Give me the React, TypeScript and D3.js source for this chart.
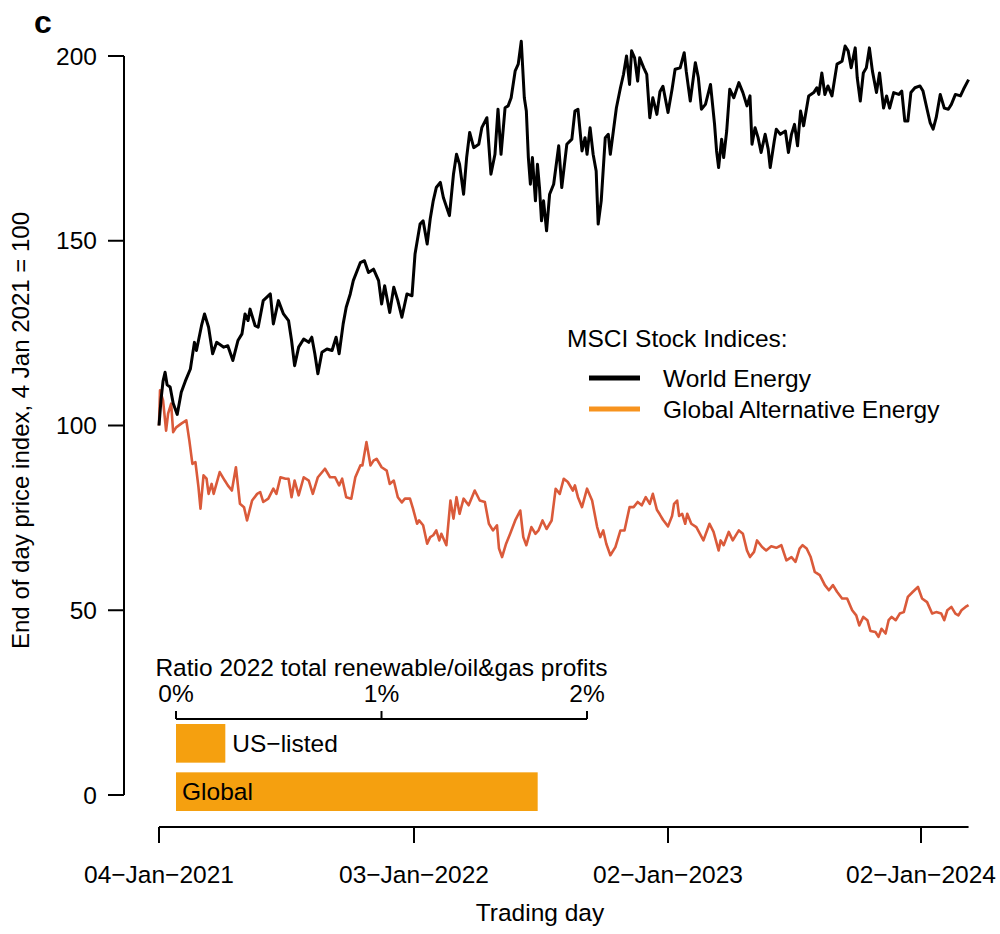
import React from "react";
import * as d3 from "d3";

// ---------- data ----------
const worldDays = [0,2,4,6,8,11,14,18,22,26,31,35,37,42,45,49,53,57,64,68,73,78,82,85,88,90,95,98,103,110,113,118,123,128,131,134,138,143,148,151,154,157,161,166,171,175,178,182,185,189,192,199,203,207,212,217,220,223,228,232,236,240,245,250,253,258,261,265,268,271,274,278,281,287,291,294,297,301,304,307,311,316,319,324,328,332,335,338,342,345,348,352,355,358,361,363,365,367,369,372,374,376,378,380,383,386,390,395,398,403,408,411,414,418,421,423,426,429,432,434,437,441,444,446,449,452,456,459,462,465,467,470,473,475,479,482,485,488,492,495,498,503,507,510,515,519,521,525,530,533,536,540,545,549,551,553,556,558,561,564,568,573,577,581,584,586,589,592,595,599,602,604,608,610,614,619,622,625,628,631,634,637,642,647,650,652,655,658,661,665,670,675,678,681,684,688,690,693,696,699,702,705,709,712,716,719,722,726,731,734,737,740,743,747,752,755,759,762,765,768,772,776,780,783,787,792,795,800];
const worldValues = [100,107,112,114.4,111,110.4,106,103,109,112,115.3,122.5,120.3,127,130.2,126.6,119.4,122.5,121.2,121.6,117.6,123,124.8,130.2,128.4,131.5,127,126.6,133.8,135.6,127.5,133.8,130.2,128.4,123,116.2,121.2,123.4,122.5,123.9,119.4,114,119.8,120.7,120.3,123.9,119.4,127.5,132,135.6,139.2,144.1,144.6,141.4,142.3,139.2,132.9,137.8,130.6,137.4,133.8,129.3,135.6,135.1,146.4,154.5,155.4,149.1,155.9,160.8,164.4,165.8,161.7,156.8,168,173.4,170.7,162.6,172.5,179.3,175.2,176.1,180.6,183.3,168,173.4,185.6,173.4,186,186.5,188.7,196,197.8,204,188.7,185.1,172.5,165.3,172.5,160.8,170.7,164.4,155.4,160.8,152.7,162.6,165.3,175.7,164.4,176.1,177.5,185.1,185.6,174.3,177.9,173.4,180.6,173.4,168.9,154.5,160.8,177.9,178.8,173.4,179.7,186,191.4,195,200,192.3,201.4,199.5,193.2,199.5,196.8,195,183.3,188.7,184.2,190.3,191.8,184.7,191,196.4,196.8,200.9,195.9,187.8,198.2,194.1,185.6,186.9,192.3,181.5,174.3,169.8,177.5,172.5,179.7,191,188.7,192.8,190.1,186.5,189.2,176.1,180.6,177.9,173.9,178.8,174.8,169.8,177,180.2,178.8,179.7,173.9,178.8,181.5,175.7,185.1,181.1,189.2,190.1,191.4,189.6,195.4,189.6,191.9,189.2,197.8,198.6,202.7,201.4,196.8,202.2,194.1,187.8,195.4,196.8,202.2,195.9,190.1,195.4,185.9,189.2,185.9,190.1,189.6,190.5,182.4,182.4,190.1,191.4,191.9,190.5,185.6,182,180.2,183.3,189.6,185.9,185.6,186.9,189.6,189.2,191,193.6];

const altDays = [0,1,4,7,9,12,14,17,22,27,30,33,36,39,41,44,47,49,52,54,60,65,68,72,76,80,84,87,92,97,100,103,108,113,116,120,125,128,131,134,138,143,148,152,157,164,169,174,178,181,185,190,194,199,201,205,209,212,215,220,225,228,232,236,240,243,248,251,255,257,261,265,268,271,274,277,279,284,288,291,294,297,301,306,312,317,322,326,330,334,336,339,343,347,352,357,360,363,368,372,375,379,383,388,392,396,400,404,409,411,414,418,423,428,433,436,439,442,446,451,456,460,465,469,473,477,481,485,488,492,495,498,503,507,509,512,514,517,520,522,526,531,538,544,548,553,555,558,563,567,573,577,581,584,588,591,596,600,605,610,615,620,625,629,633,636,640,644,648,653,658,662,666,670,675,680,685,689,692,696,700,703,708,711,714,718,721,724,728,732,736,740,745,750,754,759,764,768,773,776,779,783,787,790,793,797,800];
const altValues = [100,109.5,106.8,98.6,103.2,105.9,98.2,99.5,100.5,101.4,95.9,89.6,90.1,83.3,77.5,86.5,85.6,81.5,84.2,81.5,87.4,85.1,83.8,82.4,88.7,78.8,77.9,74.3,79.7,81.5,82,79.3,80.2,82.9,81.5,86,85.6,85.6,80.6,85.1,81.1,86,85.1,81.5,86,88.3,86,86,83.8,85.6,80.6,80.2,86,89.2,89.2,95.5,89.2,90.5,91,88.7,87.8,84.2,85.1,80.6,79.2,80.2,80.2,77.5,73.4,74.3,73,68,69.8,70.3,71.6,68.9,70.7,67.6,79.7,74.8,80.6,76.1,80.2,78.4,82.4,79.7,79.3,73.4,71.6,73,66.7,64.4,68,70.7,74.3,77,69.8,67.6,72.5,70.7,71.6,74.3,72,74.3,82.9,81.5,85.6,84.7,82.4,83.8,80.6,77.9,82.9,79.7,72.5,69.8,71.6,68,64.9,67.1,71.6,71.6,77.9,77.9,79.3,78.4,80.6,78.8,81.5,77.2,75.9,74.5,72.7,75.5,78.8,79.7,75.5,76.1,73.4,76.1,73.4,72.5,68.9,73.4,71.2,66.2,68.9,67.6,71.2,68.9,71.6,70.7,66.2,64.4,65.8,68.9,67.1,66.2,67.3,66.9,67.6,63.5,64.4,63.1,66.7,67.6,66.7,64.4,60.4,59.5,56.8,55.4,56.8,55,53.2,53.2,50,48.6,45.9,48.2,47.3,44.4,44.1,42.8,45,43.7,47.3,48.2,47.3,49.1,49.5,53.6,55,56.3,53.2,52.2,49.1,49.5,49.1,47.3,50,50.9,49.1,48.6,50,50.9,51.4];

const xTickDays = [0, 252, 503, 753];
const xTickLabels = ["04\u2212Jan\u22122021", "03\u2212Jan\u22122022", "02\u2212Jan\u22122023", "02\u2212Jan\u22122024"];
const yTicks = [0, 50, 100, 150, 200];

const ratioCategories = ["US\u2212listed", "Global"];
const ratioValues = [0.24, 1.76];
const ratioTicks = [0, 1, 2];

const seriesNames = ["World Energy", "Global Alternative Energy"];

// ---------- styling ----------
const FONT = "'Liberation Sans', Arial, Helvetica, sans-serif";
const BLACK = "#000000";
const RED = "#DA5A3A";
const ORANGE_LEG = "#F7931E";
const ORANGE_BAR = "#F5A00F";

export default function App() {
  const x = d3.scaleLinear().domain([0, 753]).range([159, 921]);
  const y = d3.scaleLinear().domain([0, 200]).range([795, 56]);
  const xr = d3.scaleLinear().domain([0, 2]).range([176, 587]);
  const yb = d3.scaleBand().domain(ratioCategories).range([724, 811]).paddingInner(0.2);

  const line = d3
    .line<[number, number]>()
    .x((d) => x(d[0]))
    .y((d) => y(d[1]));

  const worldPts = worldDays.map((d, i) => [d, worldValues[i]] as [number, number]);
  const altPts = altDays.map((d, i) => [d, altValues[i]] as [number, number]);
  const lastDay = Math.max(worldDays[worldDays.length - 1], altDays[altDays.length - 1]);

  const fs = 24.5;

  return (
    <svg
      width={1000}
      height={934}
      style={{ position: "absolute", left: 0, top: 0, background: "#fff" }}
      fontFamily={FONT}
    >
      <rect x={0} y={0} width={1000} height={934} fill="#fff" />
      {/* panel letter */}
      <text x={34} y={33} fontSize={32} fontWeight="bold" fill="#000">
        c
      </text>

      {/* y axis */}
      <line x1={124} x2={124} y1={y(0)} y2={y(200)} stroke="#000" strokeWidth={2} />
      {yTicks.map((t) => (
        <g key={t}>
          <line x1={108} x2={124} y1={y(t)} y2={y(t)} stroke="#000" strokeWidth={2} />
          <text x={97} y={y(t)} dy="0.35em" textAnchor="end" fontSize={fs} fill="#000">
            {t}
          </text>
        </g>
      ))}
      <text
        transform={`translate(29,${(y(0) + y(200)) / 2 + 5}) rotate(-90)`}
        textAnchor="middle"
        fontSize={24}
        fill="#000"
      >
        End of day price index, 4 Jan 2021 = 100
      </text>

      {/* x axis */}
      <line x1={x(0)} x2={x(lastDay)} y1={827} y2={827} stroke="#000" strokeWidth={2} />
      {xTickDays.map((t, i) => (
        <g key={t}>
          <line x1={x(t)} x2={x(t)} y1={827} y2={843} stroke="#000" strokeWidth={2} />
          <text x={x(t)} y={883} textAnchor="middle" fontSize={fs} fill="#000">
            {xTickLabels[i]}
          </text>
        </g>
      ))}
      <text x={(x(0) + x(753)) / 2} y={921} textAnchor="middle" fontSize={fs} fill="#000">
        Trading day
      </text>

      {/* series */}
      <path d={line(altPts) || ""} fill="none" stroke={RED} strokeWidth={2.6} strokeLinejoin="round" />
      <path d={line(worldPts) || ""} fill="none" stroke={BLACK} strokeWidth={3} strokeLinejoin="round" />

      {/* legend */}
      <text x={567} y={347} fontSize={fs} fill="#000">
        MSCI Stock Indices:
      </text>
      <line x1={589} x2={640} y1={378} y2={378} stroke={BLACK} strokeWidth={5} />
      <text x={663} y={387} fontSize={fs} fill="#000">
        {seriesNames[0]}
      </text>
      <line x1={589} x2={640} y1={409} y2={409} stroke={ORANGE_LEG} strokeWidth={5} />
      <text x={663} y={418} fontSize={fs} fill="#000">
        {seriesNames[1]}
      </text>

      {/* inset bar chart */}
      <text x={xr(1)} y={676} textAnchor="middle" fontSize={fs} fill="#000">
        Ratio 2022 total renewable/oil&amp;gas profits
      </text>
      <line x1={xr(0)} x2={xr(2)} y1={719} y2={719} stroke="#000" strokeWidth={2} />
      {ratioTicks.map((t) => (
        <g key={t}>
          <line x1={xr(t)} x2={xr(t)} y1={711} y2={719} stroke="#000" strokeWidth={2} />
          <text x={xr(t)} y={702} textAnchor="middle" fontSize={fs} fill="#000">
            {t}%
          </text>
        </g>
      ))}
      {ratioCategories.map((c, i) => {
        const w = xr(ratioValues[i]) - xr(0);
        const by = yb(c) || 0;
        const bh = yb.bandwidth();
        const inside = i === 1;
        return (
          <g key={c}>
            <rect x={xr(0)} y={by} width={w} height={bh} fill={ORANGE_BAR} />
            <text
              x={inside ? xr(0) + 6 : xr(ratioValues[i]) + 7}
              y={by + bh / 2}
              dy="0.35em"
              fontSize={fs}
              fill="#000"
            >
              {c}
            </text>
          </g>
        );
      })}
    </svg>
  );
}
